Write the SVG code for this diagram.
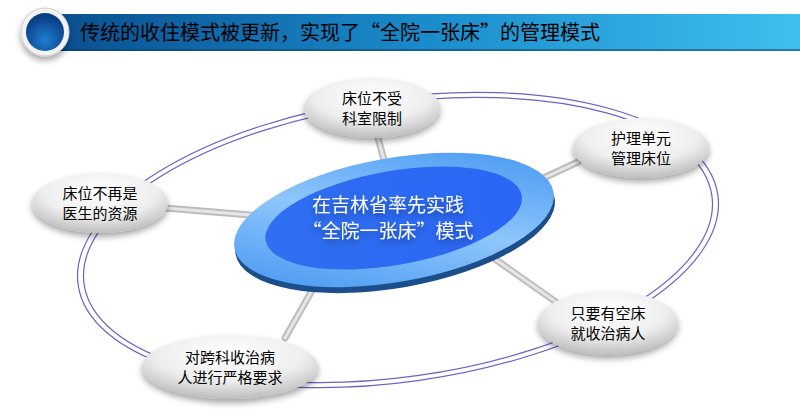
<svg xmlns="http://www.w3.org/2000/svg" width="800" height="419" viewBox="0 0 800 419">
<defs>
<linearGradient id="bar" x1="0" x2="1" y1="0" y2="0"><stop offset="0" stop-color="#0a4f8f"/><stop offset="0.5" stop-color="#1a8ccc"/><stop offset="1" stop-color="#3fc0ee"/></linearGradient>
<radialGradient id="btn" cx="0.5" cy="0.7" r="0.6"><stop offset="0" stop-color="#1e7fd0"/><stop offset="1" stop-color="#0a3f86"/></radialGradient>
<radialGradient id="node" cx="0.5" cy="0.3" r="0.7"><stop offset="0" stop-color="#ffffff"/><stop offset="0.6" stop-color="#eeeeee"/><stop offset="1" stop-color="#bdbdbd"/></radialGradient>
<linearGradient id="outer" x1="0" x2="1" y1="1" y2="0"><stop offset="0" stop-color="#3a8ff0"/><stop offset="0.5" stop-color="#8ec6fb"/><stop offset="1" stop-color="#3a90f0"/></linearGradient>
<linearGradient id="inner" x1="0" x2="1"><stop offset="0" stop-color="#2f6ff0"/><stop offset="1" stop-color="#2a66f5"/></linearGradient>
<filter id="sh" x="-20%" y="-20%" width="140%" height="150%"><feDropShadow dx="0" dy="4" stdDeviation="3" flood-color="#000" flood-opacity="0.35"/></filter>
</defs>
<style>
.nt{font-family:"Noto Sans CJK SC","Noto Sans",sans-serif;font-size:15px;fill:#000;text-anchor:middle}
.ring{fill:none;stroke:#6b63c8;stroke-width:1.2}
.conn{stroke:#bdbdbd;stroke-width:7;stroke-linecap:round}
.connh{stroke:#e6e6e6;stroke-width:3;stroke-linecap:round}
</style>
<rect width="800" height="419" fill="#fff"/>
<g id="title">
<rect x="55" y="14" width="745" height="37" fill="url(#bar)"/>
<rect x="55" y="49" width="745" height="2" fill="#0a3a6a" opacity="0.5"/>
<circle cx="45" cy="32" r="24" fill="#f2f2f2" stroke="#cfcfcf" stroke-width="1" filter="url(#sh)"/>
<circle cx="45" cy="32" r="19" fill="url(#btn)"/>
<text x="80" y="40" font-family="Noto Sans CJK SC,sans-serif" font-size="20" fill="#000">传统的收住模式被更新，实现了“全院一张床”的管理模式</text>
</g>
<g id="rings">
<ellipse class="ring" cx="398" cy="240" rx="323" ry="142" transform="rotate(-8 398 240)"/>
<ellipse class="ring" cx="398" cy="240" rx="317" ry="137" transform="rotate(-8 398 240)"/>
</g>
<g id="connectors">
<line class="conn" x1="378" y1="138" x2="384" y2="160"/><line class="connh" x1="378" y1="138" x2="384" y2="160"/>
<line class="conn" x1="578" y1="162" x2="522" y2="188"/><line class="connh" x1="578" y1="162" x2="522" y2="188"/>
<line class="conn" x1="165" y1="208" x2="250" y2="215"/><line class="connh" x1="165" y1="208" x2="250" y2="215"/>
<line class="conn" x1="485" y1="252" x2="556" y2="302"/><line class="connh" x1="485" y1="252" x2="556" y2="302"/>
<line class="conn" x1="318" y1="280" x2="285" y2="338"/><line class="connh" x1="318" y1="280" x2="285" y2="338"/>
</g>
<g id="center" transform="rotate(-10 394 220)">
<ellipse cx="394" cy="226" rx="162" ry="62" fill="#1b4e8a"/>
<ellipse cx="394" cy="220" rx="162" ry="62" fill="url(#outer)"/>
<ellipse cx="394" cy="218" rx="130" ry="47" fill="url(#inner)"/>
</g>
<g id="center-text" font-family="Noto Sans CJK SC,sans-serif" font-size="19" fill="#fff" text-anchor="middle" filter="url(#sh)">
<text x="388" y="212">在吉林省率先实践</text>
<text x="388" y="238">“全院一张床”模式</text>
</g>
<g id="n1"><ellipse cx="372" cy="108" rx="68" ry="30" fill="url(#node)" filter="url(#sh)"/><text class="nt" x="372" y="104">床位不受</text><text class="nt" x="372" y="124">科室限制</text></g>
<g id="n2"><ellipse cx="641" cy="148" rx="68" ry="30" fill="url(#node)" filter="url(#sh)"/><text class="nt" x="641" y="144">护理单元</text><text class="nt" x="641" y="164">管理床位</text></g>
<g id="n3"><ellipse cx="100" cy="203" rx="68" ry="30" fill="url(#node)" filter="url(#sh)"/><text class="nt" x="100" y="199">床位不再是</text><text class="nt" x="100" y="219">医生的资源</text></g>
<g id="n4"><ellipse cx="608" cy="323" rx="70" ry="32" fill="url(#node)" filter="url(#sh)"/><text class="nt" x="608" y="319">只要有空床</text><text class="nt" x="608" y="339">就收治病人</text></g>
<g id="n5"><ellipse cx="230" cy="367" rx="88" ry="32" fill="url(#node)" filter="url(#sh)"/><text class="nt" x="230" y="363">对跨科收治病</text><text class="nt" x="230" y="383">人进行严格要求</text></g>
</svg>
